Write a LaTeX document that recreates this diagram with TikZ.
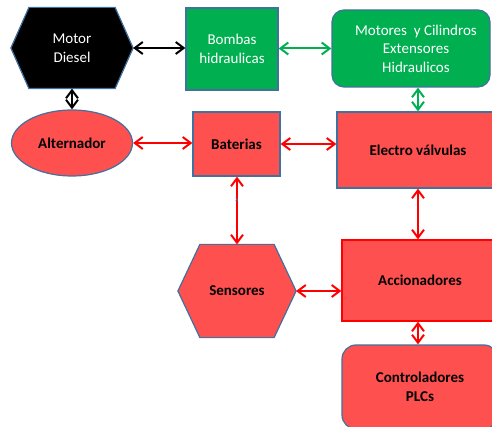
\documentclass[tikz,border=0pt]{standalone}
\usepackage{fontspec}
\setmainfont{Carlito}
\usetikzlibrary{arrows.meta,shapes.geometric,backgrounds}

\definecolor{boxred}{HTML}{FF5050}
\definecolor{boxgreen}{HTML}{00B050}
\definecolor{edgeblue}{HTML}{41719C}
\definecolor{linkred}{HTML}{FF0000}
\definecolor{linkgreen}{HTML}{00B050}
\definecolor{markblue}{HTML}{4472C4}

\tikzset{
  base/.style={inner sep=0pt, align=center, line width=1.2pt},
  whitetxt/.style={base, text=white, font=\fontsize{15}{18.5}\selectfont},
  blacktxt/.style={base, text=black, font=\fontsize{15}{18.5}\selectfont\bfseries},
  greenbox/.style={whitetxt, rectangle, draw=edgeblue, fill=boxgreen},
  redbox/.style={blacktxt, rectangle, draw=edgeblue, fill=boxred},
  hexbody/.style={whitetxt, rectangle},
  link/.style={line width=2pt, {Straight Barb[length=8pt,width=12pt]}-{Straight Barb[length=8pt,width=12pt]}},
  blacklink/.style={link, draw=black},
  redlink/.style={link, draw=linkred},
  greenlink/.style={link, draw=linkgreen},
}

\begin{document}
\begin{tikzpicture}[x=1pt, y=-1pt]
  \clip (0,0) rectangle (492,427);

  % engine and hydraulic chain
  \node[hexbody, minimum width=121pt, minimum height=80pt] (diesel) at (72,48) {Motor\\Diesel};
  \node[greenbox, minimum width=92pt, minimum height=82pt] (bombas) at (232,49) {Bombas\\hidraulicas};
  \node[greenbox, rounded corners=12pt, minimum width=158pt, minimum height=77pt] (motores) at (411,48.5) {\hspace*{10pt}Motores\ \ y Cilindros\\\hspace*{10pt}Extensores\\\hspace*{10pt}Hidraulicos};

  % electrical side
  \node[blacktxt, ellipse, draw=edgeblue, fill=boxred, minimum width=121pt, minimum height=66pt] (alternador) at (72,143) {Alternador};
  \node[redbox, minimum width=87pt, minimum height=64pt] (baterias) at (236.5,144) {Baterias};
  \node[redbox, minimum width=162pt, minimum height=76pt] (electro) at (418,150) {Electro válvulas};
  \node[blacktxt, rectangle, minimum width=117pt, minimum height=92pt] (sensores) at (237,291) {Sensores};
  \node[redbox, draw=linkred, minimum width=156pt, minimum height=81pt] (accion) at (420,280.5) {Accionadores};
  \node[redbox, rounded corners=14pt, minimum width=156pt, minimum height=84pt] (control) at (420,387) {Controladores\\PLCs};

  % hexagonal outlines behind the two hexagon nodes
  \begin{scope}[on background layer]
    \fill[white] (0,0) rectangle (492,427);
    \draw[line width=1.2pt, draw=edgeblue, fill=black]
      (diesel.west) -- ([xshift=18pt]diesel.north west) -- ([xshift=-18pt]diesel.north east)
      -- (diesel.east) -- ([xshift=-18pt]diesel.south east) -- ([xshift=18pt]diesel.south west) -- cycle;
    \draw[line width=1.2pt, draw=edgeblue, fill=boxred]
      (sensores.west) -- ([xshift=22pt]sensores.north west) -- ([xshift=-22pt]sensores.north east)
      -- (sensores.east) -- ([xshift=-22pt]sensores.south east) -- ([xshift=22pt]sensores.south west) -- cycle;
  \end{scope}

  % connectors
  \draw[blacklink] (diesel.east) -- (diesel.east -| bombas.west);
  \draw[greenlink] (bombas.east |- motores.west) -- (motores.west);
  \draw[blacklink] (diesel.south) -- (alternador.north);
  \draw[greenlink] (electro.north |- motores.south) -- (electro.north);
  \draw[redlink] (alternador.east) -- (alternador.east -| baterias.west);
  \draw[redlink] (baterias.east) -- (baterias.east -| electro.west);
  \draw[redlink] (baterias.south -| sensores.north) -- (sensores.north);
  \draw[redlink] (electro.south) -- (electro.south |- accion.north);
  \draw[redlink] (sensores.east) -- (sensores.east -| accion.west);
  \draw[redlink] (electro.south |- accion.south) -- (electro.south |- control.north);

  % small mark on the battery-sensor link
  \node[text=markblue, font=\fontsize{7}{7}\selectfont, inner sep=0pt] (mark) at (237,200) {x};
\end{tikzpicture}
\end{document}
